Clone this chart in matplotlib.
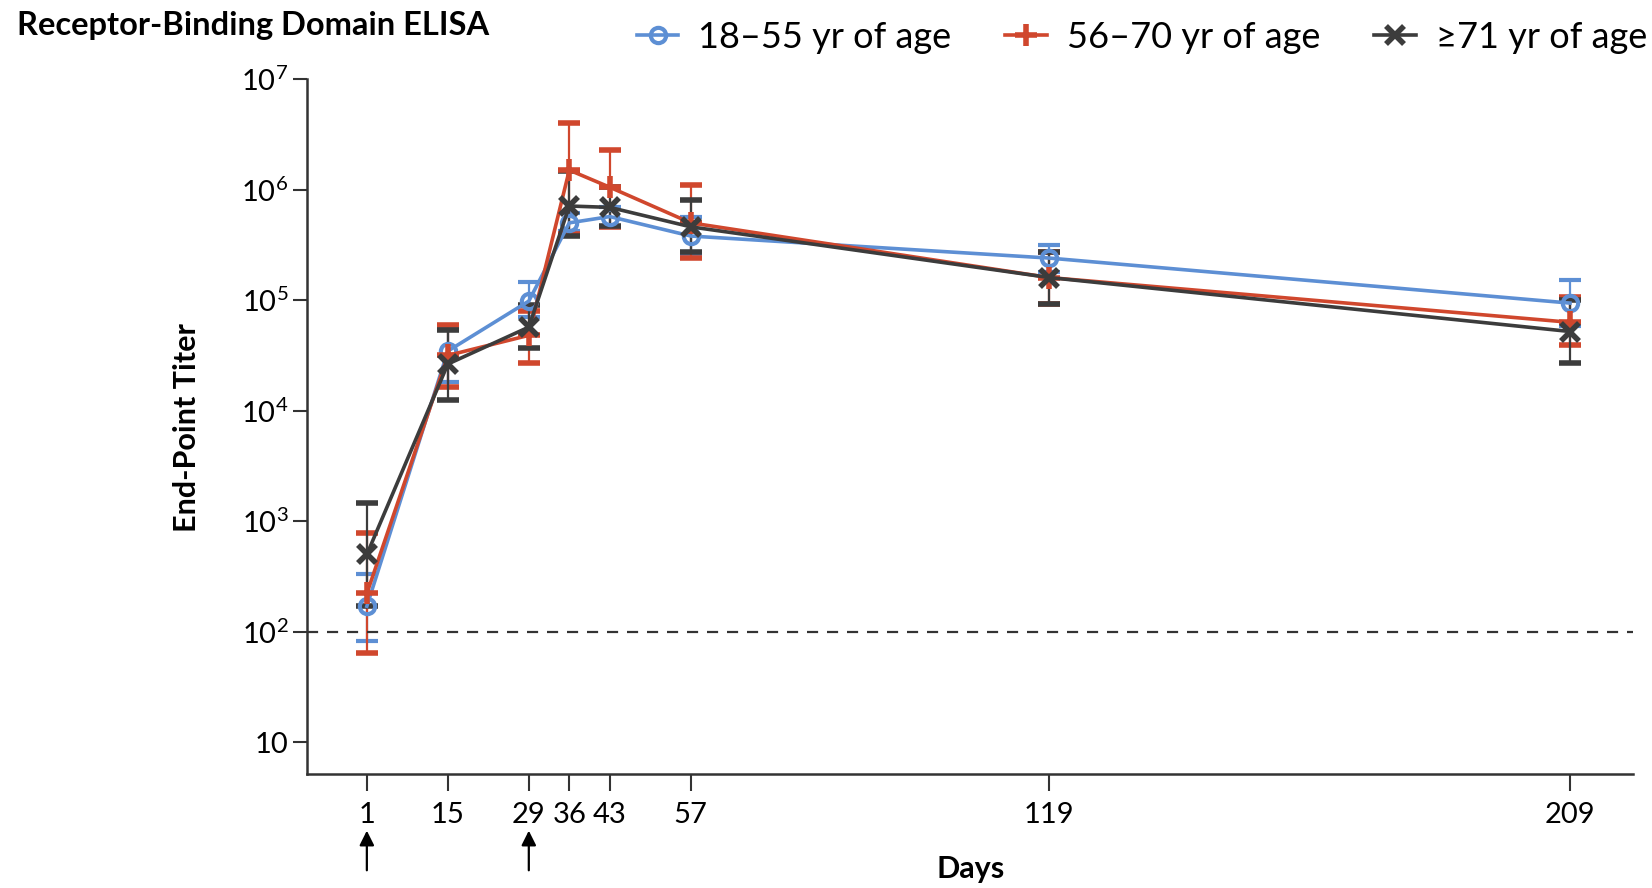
"""Receptor-binding domain ELISA titers by age group."""

import matplotlib

matplotlib.use("Agg")
import matplotlib.pyplot as plt
from matplotlib import font_manager
from matplotlib.lines import Line2D
from matplotlib.ticker import FixedLocator, NullLocator

_names = {f.name for f in font_manager.fontManager.ttflist}
FONT = "Lato" if "Lato" in _names else "DejaVu Sans"

plt.rcParams.update({
    "font.family": [FONT, "DejaVu Sans"],
    "mathtext.fontset": "custom",
    "mathtext.rm": FONT,
    "mathtext.it": FONT,
    "mathtext.bf": FONT + ":bold",
    "axes.spines.top": False,
    "axes.spines.right": False,
})

BLUE = "#5d8fd4"
RED = "#d0472d"
DARK = "#3c3c3c"

days = [1, 15, 29, 36, 43, 57, 119, 209]
day_labels = ["1", "15", "29", "36", "43", "57", "119", "209"]
dose_days = [1, 29]

young_mean = [170, 34600, 98000, 500000, 570000, 380000, 240000, 94000]
young_low = [82, 18000, 70000, 420000, 460000, 260000, 180000, 58000]
young_high = [330, 57000, 145000, 620000, 690000, 560000, 315000, 152000]

mid_mean = [222, 31600, 48000, 1500000, 1050000, 500000, 160000, 63000]
mid_low = [64, 16200, 27000, 400000, 460000, 240000, 93000, 39000]
mid_high = [776, 60000, 80000, 4000000, 2300000, 1090000, 270000, 107000]

old_mean = [500, 26400, 57000, 710000, 690000, 460000, 160000, 52000]
old_low = [172, 12600, 36500, 380000, 470000, 270000, 93000, 27000]
old_high = [1460, 53700, 91000, 1460000, 1050000, 810000, 270000, 100000]

lod = 100
ytick_vals = [10, 1e2, 1e3, 1e4, 1e5, 1e6, 1e7]
ytick_labels = ["10", r"$10^2$", r"$10^3$", r"$10^4$", r"$10^5$", r"$10^6$", r"$10^7$"]

series = [
    ("18\u201355 yr of age", young_mean, young_low, young_high, BLUE, "o"),
    ("56\u201370 yr of age", mid_mean, mid_low, mid_high, RED, "P"),
    ("\u226571 yr of age", old_mean, old_low, old_high, DARK, "X"),
]

fig = plt.figure(figsize=(16.52, 8.88), dpi=100)
ax = fig.add_axes([0.186, 0.128, 0.8025, 0.783])

handles = []
for label, mean, low, high, color, marker in series:
    err = [[m - lo for m, lo in zip(mean, low)], [hi - m for m, hi in zip(mean, high)]]
    if marker == "o":
        style = dict(marker="o", ms=11, mew=3, mfc="none", mec=color)
    elif marker == "P":
        style = dict(marker="+", ms=16, mew=4, mec=color)
    else:
        style = dict(marker="x", ms=13, mew=4, mec=color)
    ax.errorbar(days, mean, yerr=err, color=color, lw=2.6, capsize=8, capthick=2,
                elinewidth=1.6, **style)
    handles.append(Line2D([], [], color=color, lw=2.6, label=label, **style))

ax.axhline(lod, color="#333333", lw=1.6, ls=(0, (5, 4)))

ax.set_yscale("log")
ax.set_ylim(10 ** 0.71, 1e7)
ax.set_xlim(-9.3, 219.9)
ax.yaxis.set_major_locator(FixedLocator(ytick_vals))
ax.set_yticklabels(ytick_labels)
ax.yaxis.set_minor_locator(NullLocator())
ax.set_xticks(days)
ax.set_xticklabels(day_labels)
ax.tick_params(axis="both", labelsize=21, width=1.5, length=10, color="#333333")
ax.tick_params(axis="x", length=12, pad=8)
for s in ("left", "bottom"):
    ax.spines[s].set_linewidth(1.8)
    ax.spines[s].set_color("#333333")

# dose arrows below the axis
for d in dose_days:
    ax.annotate("", xy=(d, -0.077), xytext=(d, -0.142),
                xycoords=ax.get_xaxis_transform(), textcoords=ax.get_xaxis_transform(),
                arrowprops=dict(arrowstyle="-|>", color="black", lw=1.6,
                                mutation_scale=22), annotation_clip=False)

fig.text(971 / 1652, 0.021, "Days", ha="center", va="center",
         fontsize=22, fontweight="bold")
fig.text(0.113, 0.519, "End-Point Titer", ha="center", va="center", rotation=90,
         fontsize=22, fontweight="bold")
fig.text(0.010, 0.971, "Receptor-Binding Domain ELISA", ha="left", va="center",
         fontsize=23.5, fontweight="bold")

fig.legend(handles=handles, loc="center right", bbox_to_anchor=(0.997, 0.958),
           ncol=3, frameon=False, fontsize=26, handlelength=1.15, handletextpad=0.55,
           columnspacing=1.5, borderpad=0, borderaxespad=0)

fig.savefig("out.png", dpi=100, facecolor="white")
